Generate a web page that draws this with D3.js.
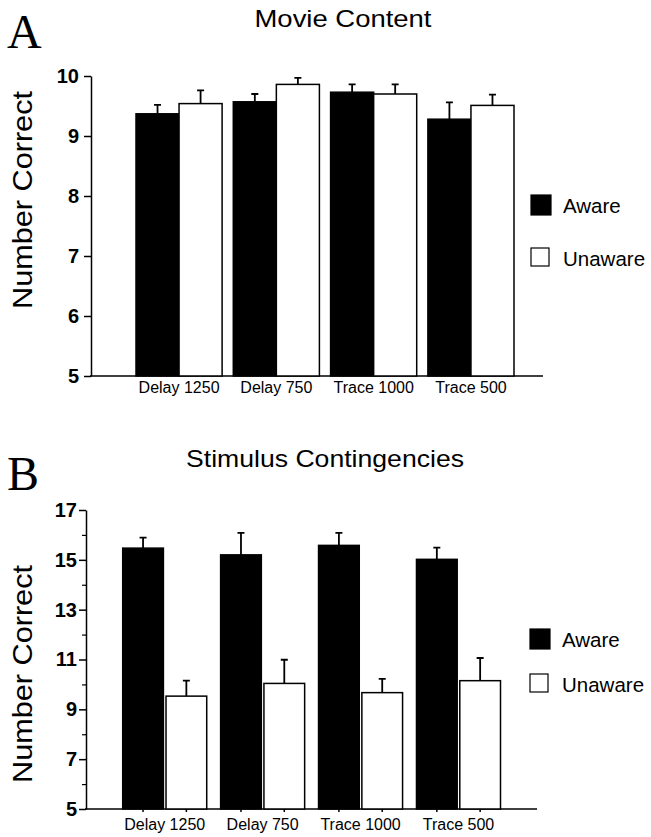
<!DOCTYPE html>
<html lang="en">
<head>
    <meta charset="UTF-8">
    <script src="https://d3js.org/d3.v7.min.js"></script>
    <title>Number Correct</title>
    <style>
        body { margin: 0; background: #fff; }
        text { font-family: "Liberation Sans", Arial, sans-serif; fill: #000; }
        .letter { font-family: "Liberation Serif", "Times New Roman", serif; }
    </style>
</head>
<body>
    <svg></svg>
    <script>
        const categories = ['Delay 1250', 'Delay 750', 'Trace 1000', 'Trace 500'];
        const series = ['Aware', 'Unaware'];

        // A: movie content
        const movieAware = [9.37, 9.57, 9.73, 9.28];
        const movieAwareErr = [0.15, 0.13, 0.13, 0.28];
        const movieUnaware = [9.54, 9.86, 9.70, 9.51];
        const movieUnawareErr = [0.22, 0.11, 0.16, 0.18];
        const movieTicks = [5, 6, 7, 8, 9, 10];

        // B: stimulus contingencies
        const stimAware = [15.47, 15.20, 15.58, 15.02];
        const stimAwareErr = [0.42, 0.88, 0.50, 0.47];
        const stimUnaware = [9.53, 10.04, 9.67, 10.15];
        const stimUnawareErr = [0.62, 0.95, 0.55, 0.91];
        const stimTicks = [5, 7, 9, 11, 13, 15, 17];
        const stimMinor = [6, 8, 10, 12, 14, 16];

        const fills = { Aware: '#000', Unaware: '#fff' };

        let svg = d3.select('svg')
            .attr('width', 651)
            .attr('height', 837);
        svg.append('rect').attr('width', 651).attr('height', 837).attr('fill', '#fff');

        function panel(p) {
            let g = svg.append('g');

            const y = d3.scaleLinear().domain(p.domain).range([p.bottom, p.top]);
            const x0 = d3.scaleBand().domain(categories).range(p.xRange).paddingInner(p.groupPad);
            const x1 = d3.scaleBand().domain(series).range([0, x0.bandwidth()]).paddingInner(p.barPad);

            const rows = categories.map((c, i) => ({
                cat: c,
                vals: [
                    { s: 'Aware', v: p.aware[i], e: p.awareErr[i] },
                    { s: 'Unaware', v: p.unaware[i], e: p.unawareErr[i] }
                ]
            }));

            // 坐标轴
            g.append('g')
                .attr('transform', `translate(${p.axisX},0)`)
                .call(d3.axisLeft(y).tickValues(p.ticks).tickFormat(d3.format('d'))
                    .tickSize(7).tickSizeOuter(0).tickPadding(p.tickPad))
                .call(a => a.select('.domain').attr('stroke-width', 1.5))
                .call(a => a.selectAll('line').attr('stroke-width', 1.5))
                .call(a => a.selectAll('text')
                    .style('font-family', '"Liberation Sans", Arial, sans-serif')
                    .style('font-size', '20px').style('font-weight', 'bold'));

            if (p.minor) {
                g.append('g')
                    .attr('transform', `translate(${p.axisX},0)`)
                    .call(d3.axisLeft(y).tickValues(p.minor).tickSize(4).tickSizeOuter(0).tickFormat(''))
                    .call(a => a.select('.domain').remove())
                    .call(a => a.selectAll('line').attr('stroke-width', 1.2));
            }

            g.append('line')
                .attr('x1', p.axisX - 1).attr('x2', p.baseEnd)
                .attr('y1', y(p.domain[0])).attr('y2', y(p.domain[0]))
                .attr('stroke', '#000').attr('stroke-width', 1.5);

            g.append('g')
                .attr('transform', `translate(0,${y(p.domain[0])})`)
                .call(d3.axisBottom(x0).tickSize(0).tickPadding(p.labelPad))
                .call(a => a.select('.domain').remove())
                .call(a => a.selectAll('text')
                    .style('font-family', '"Liberation Sans", Arial, sans-serif')
                    .style('font-size', '16px'));

            // 柱子
            let grp = g.selectAll('.grp')
                .data(rows)
                .enter()
                .append('g')
                .attr('transform', d => `translate(${x0(d.cat)},0)`);

            grp.selectAll('rect')
                .data(d => d.vals)
                .enter()
                .append('rect')
                .attr('x', d => x1(d.s))
                .attr('y', d => y(d.v))
                .attr('width', x1.bandwidth())
                .attr('height', d => y(p.domain[0]) - y(d.v))
                .attr('fill', d => fills[d.s])
                .attr('stroke', '#000')
                .attr('stroke-width', 1.5);

            // 误差线（只画上半部分）
            grp.selectAll('path.err')
                .data(d => d.vals)
                .enter()
                .append('path')
                .attr('class', 'err')
                .attr('d', d => {
                    let cx = x1(d.s) + x1.bandwidth() / 2;
                    return `M${cx},${y(d.v)}V${y(d.v + d.e)}M${cx - 3.5},${y(d.v + d.e)}H${cx + 3.5}`;
                })
                .attr('fill', 'none')
                .attr('stroke', '#000')
                .attr('stroke-width', 1.8);

            if (p.barTicks) {
                grp.selectAll('line.bt')
                    .data(d => d.vals)
                    .enter()
                    .append('line')
                    .attr('x1', d => x1(d.s) + x1.bandwidth() / 2)
                    .attr('x2', d => x1(d.s) + x1.bandwidth() / 2)
                    .attr('y1', y(p.domain[0]))
                    .attr('y2', y(p.domain[0]) + 3)
                    .attr('stroke', '#000').attr('stroke-width', 1.5);
            }

            // 标题、字母、纵轴名称
            g.append('text')
                .attr('x', p.titleX).attr('y', p.titleY)
                .attr('text-anchor', 'middle')
                .attr('textLength', p.titleLen).attr('lengthAdjust', 'spacingAndGlyphs')
                .style('font-size', '24px')
                .text(p.title);

            g.append('text')
                .attr('class', 'letter')
                .attr('x', 7).attr('y', p.letterY)
                .style('font-size', '48px')
                .text(p.letter);

            g.append('text')
                .attr('transform', `translate(32,${p.ylabelY}) rotate(-90)`)
                .attr('text-anchor', 'middle')
                .attr('textLength', 218).attr('lengthAdjust', 'spacingAndGlyphs')
                .style('font-size', '28px')
                .text('Number Correct');

            // 图例
            let leg = g.selectAll('.leg')
                .data(series)
                .enter()
                .append('g')
                .attr('transform', (d, i) => `translate(${p.legX},${p.legY + i * p.legStep})`);
            leg.append('rect')
                .attr('x', 0).attr('y', -18)
                .attr('width', d => d === 'Aware' ? 20 : 18)
                .attr('height', d => d === 'Aware' ? 20 : 18)
                .attr('fill', d => fills[d])
                .attr('stroke', '#000').attr('stroke-width', 1.2);
            leg.append('text')
                .attr('x', 32).attr('y', 0)
                .style('font-size', '20.5px')
                .text(d => d);
        }

        panel({
            domain: [5, 10], top: 76, bottom: 376,
            xRange: [136, 514], groupPad: 0.115, barPad: 0,
            aware: movieAware, awareErr: movieAwareErr,
            unaware: movieUnaware, unawareErr: movieUnawareErr,
            ticks: movieTicks, tickPad: 5,
            axisX: 91, baseEnd: 543, labelPad: 6,
            title: 'Movie Content', titleX: 343, titleY: 27, titleLen: 177,
            letter: 'A', letterY: 48, ylabelY: 200,
            legX: 531, legY: 213, legStep: 53
        });

        panel({
            domain: [5, 17], top: 510, bottom: 809,
            xRange: [122.7, 500.5], groupPad: 0.142, barPad: 0.06,
            aware: stimAware, awareErr: stimAwareErr,
            unaware: stimUnaware, unawareErr: stimUnawareErr,
            ticks: stimTicks, minor: stimMinor, tickPad: 2,
            axisX: 86, baseEnd: 537, labelPad: 10, barTicks: true,
            title: 'Stimulus Contingencies', titleX: 325, titleY: 467, titleLen: 278,
            letter: 'B', letterY: 490, ylabelY: 674,
            legX: 530, legY: 647, legStep: 45
        });
    </script>
</body>
</html>
